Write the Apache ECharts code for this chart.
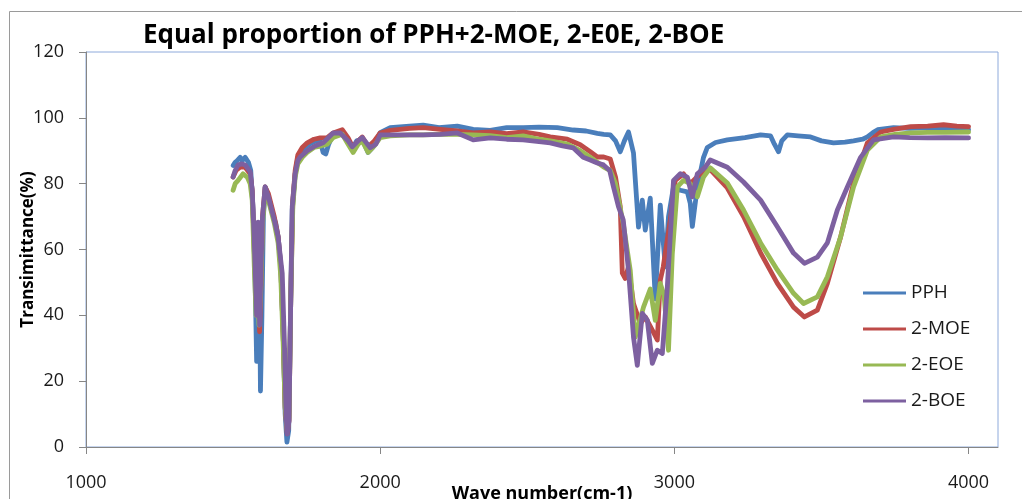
<!DOCTYPE html>
<html>
<head>
<meta charset="utf-8">
<script src="https://cdn.jsdelivr.net/npm/echarts@6/dist/echarts.min.js"></script>
<style>
html,body{margin:0;padding:0;background:#fff;}
#chart{width:1022px;height:499px;}
</style>
</head>
<body>
<div id="chart"></div>
<script>
const titleText = 'Equal proportion of PPH+2-MOE, 2-E0E, 2-BOE';
const seriesNames = ['PPH', '2-MOE', '2-EOE', '2-BOE'];
const xTicks = [1000, 2000, 3000, 4000];

const pph = [[1500,85.5],[1507,86.5],[1514,87],[1524,88],[1531,87],[1541,88],[1552,86.5],[1560,84],[1568,72],[1575,50],[1580,26],[1584,45],[1589,60],[1593,17],[1598,40],[1603,70],[1609,79],[1617,77],[1630,72],[1645,68],[1653,64],[1662,55],[1670,35],[1677,10],[1683,1.5],[1689,5],[1695,40],[1701,72],[1711,83],[1720,88],[1730,89],[1745,91],[1760,92],[1780,93],[1796,93],[1806,89.5],[1815,89],[1825,92],[1840,95],[1871,96],[1885,94],[1905,90.5],[1920,93],[1939,93.5],[1959,89.5],[1975,91],[2000,95.5],[2034,97],[2100,97.5],[2146,97.8],[2200,97],[2262,97.5],[2316,96.5],[2374,96.2],[2430,97],[2486,97],[2540,97.2],[2602,97],[2656,96.3],[2700,96],[2738,95.3],[2760,95],[2782,94.8],[2800,93],[2816,89.7],[2830,93],[2844,95.7],[2861,89.3],[2878,66.8],[2891,75],[2901,65.9],[2918,75.6],[2935,45],[2952,73.5],[2969,54.7],[2980,70],[2997,79],[3020,78],[3044,77.5],[3054,74],[3061,67],[3068,72],[3078,79],[3099,88],[3112,91],[3140,92.5],[3180,93.3],[3240,94],[3293,94.8],[3327,94.5],[3340,92],[3354,89.7],[3365,93],[3384,94.8],[3420,94.5],[3463,94.2],[3500,93],[3541,92.4],[3580,92.6],[3609,93],[3640,93.5],[3656,94.2],[3675,95.5],[3691,96.4],[3745,97],[3800,96.8],[3861,97],[3920,96.6],[4000,96.4]];

const moe = [[1500,82],[1510,84],[1524,85],[1541,85],[1558,83],[1565,78],[1572,60],[1578,45],[1585,60],[1590,35],[1595,50],[1600,70],[1609,79],[1620,77],[1640,70],[1653,64],[1662,55],[1670,35],[1677,12],[1684,4],[1690,8],[1696,45],[1703,75],[1711,84],[1720,88.7],[1735,91],[1752,92.4],[1775,93.5],[1796,93.9],[1820,94],[1840,95.4],[1871,96.4],[1891,93.9],[1908,90.9],[1925,93],[1939,94.2],[1959,91.2],[1980,93],[2000,95.4],[2034,96.2],[2100,96.8],[2146,97],[2204,96.5],[2262,96],[2316,95.4],[2374,95.7],[2430,95.2],[2486,95.7],[2540,95],[2578,94.2],[2636,93.5],[2680,91.8],[2714,89.7],[2738,88.1],[2760,88.1],[2782,87.5],[2800,82],[2816,73],[2823,52.8],[2833,51.2],[2844,54.7],[2861,43.6],[2884,37.5],[2901,39.5],[2925,35.5],[2942,32.5],[2952,50.7],[2962,54.7],[2986,69],[3003,81],[3031,83],[3054,80],[3088,83],[3122,84.3],[3180,78.7],[3235,70],[3293,59],[3350,49.7],[3405,42.5],[3442,39.5],[3486,41.6],[3520,49.7],[3565,63.8],[3609,80.2],[3656,92.4],[3701,95.7],[3745,96.5],[3803,97.3],[3861,97.5],[3915,97.9],[3960,97.5],[4000,97.3]];

const eoe = [[1500,78],[1507,80],[1517,81],[1534,83],[1548,82],[1558,80],[1565,75],[1572,55],[1578,40],[1583,50],[1588,37],[1594,48],[1600,68],[1609,77],[1620,75],[1640,68],[1653,62],[1662,52],[1670,32],[1677,12],[1684,5],[1690,9],[1696,45],[1703,73],[1711,82],[1720,86],[1735,88],[1752,89.5],[1775,91],[1800,91.5],[1820,92],[1840,94],[1871,95],[1891,92],[1908,89.5],[1925,92],[1939,93],[1959,89.5],[1980,91.5],[2000,94],[2034,94.5],[2100,94.8],[2146,94.8],[2204,95],[2262,95],[2316,94.8],[2374,94.6],[2430,94],[2486,94.5],[2540,93.5],[2578,93],[2636,92],[2680,90],[2714,88],[2738,86.5],[2760,85],[2782,84],[2800,80],[2826,68],[2850,53.7],[2867,33.4],[2895,42.5],[2918,48],[2935,38.5],[2952,49.7],[2965,46],[2980,29.4],[2993,58.8],[3010,79],[3031,81],[3054,80],[3078,76],[3099,82],[3122,84.8],[3180,80.2],[3235,72],[3293,62],[3350,53.8],[3405,46.7],[3439,43.6],[3486,45.6],[3520,51.7],[3565,63.8],[3609,79],[3656,90.2],[3701,94.2],[3750,95],[3803,95.4],[3861,95.6],[3920,95.6],[4000,95.7]];

const boe = [[1500,82],[1507,84],[1517,85.7],[1531,86],[1541,85.7],[1558,83.6],[1565,78],[1572,62.8],[1580,40],[1585,68.3],[1590,37],[1595,55],[1600,70],[1609,79],[1620,76],[1640,69],[1653,63.8],[1667,52.8],[1675,30],[1680,10],[1684,4],[1690,8],[1696,45],[1701,73],[1711,83],[1720,87],[1728,88.1],[1752,90],[1780,91.5],[1806,92.4],[1840,95.4],[1864,95.4],[1891,93],[1905,91.2],[1925,93],[1939,94],[1966,90.9],[1985,92],[2000,94.8],[2034,94.8],[2100,94.8],[2146,94.8],[2204,95],[2262,95.4],[2316,93.3],[2374,93.9],[2430,93.5],[2486,93.3],[2540,92.8],[2578,92.4],[2620,91.5],[2656,90.9],[2690,88],[2714,87.2],[2738,86.3],[2759,85.7],[2780,84],[2793,79],[2810,73],[2826,69],[2844,53.7],[2861,33.4],[2874,24.8],[2891,40.6],[2908,38.5],[2925,25.4],[2942,29.4],[2959,28.4],[2976,48.6],[2997,81],[3020,83],[3044,82],[3061,76],[3078,83],[3105,85],[3122,87.2],[3180,85],[3235,80.5],[3293,75],[3350,66.9],[3405,58.9],[3442,55.8],[3486,57.7],[3520,62],[3554,72],[3588,79],[3633,88],[3677,93.3],[3745,94.2],[3800,94],[3861,93.9],[3920,94],[4000,93.9]];

const colors = ['#4A7EBB', '#BE4B48', '#98B954', '#7D60A0'];
const allData = [pph, moe, eoe, boe];
const FONT = '"Open Sans", "Noto Sans", sans-serif';

const chart = echarts.init(document.getElementById('chart'), null, {renderer: 'canvas'});
chart.setOption({
  animation: false,
  backgroundColor: '#fff',
  color: colors,
  title: {
    text: titleText,
    left: 143,
    top: 23,
    padding: 0,
    textStyle: {fontFamily: FONT, fontWeight: 'bold', fontSize: 26, color: '#000'}
  },
  graphic: [{
    type: 'rect',
    silent: true,
    z: -1,
    shape: {x: 9.5, y: 11.5, width: 1100, height: 600},
    style: {fill: 'none', stroke: '#9a9a9a', lineWidth: 1}
  }],
  grid: {
    left: 86, top: 52, right: 24, bottom: 52,
    containLabel: false,
    outerBoundsMode: 'none',
    show: true, borderColor: '#8EAADB', borderWidth: 1, backgroundColor: 'transparent'
  },
  legend: {
    orient: 'vertical',
    left: 863,
    top: 283,
    padding: 0,
    itemWidth: 43,
    itemHeight: 14,
    itemGap: 16,
    icon: 'path://M0,6 L43,6 L43,9 L0,9 Z',
    textStyle: {fontFamily: FONT, fontSize: 19, color: '#1a1a1a', lineHeight: 20},
    data: seriesNames
  },
  xAxis: {
    type: 'value',
    min: 1000,
    max: 4100,
    interval: 1000,
    name: 'Wave number(cm-1)',
    nameLocation: 'middle',
    nameGap: 38,
    nameMoveOverlap: false,
    nameTextStyle: {fontFamily: FONT, fontWeight: 'bold', fontSize: 18, color: '#000'},
    axisLine: {lineStyle: {color: '#868686', width: 1}},
    axisTick: {show: true, inside: false, length: 7, lineStyle: {color: '#868686'}, customValues: xTicks},
    axisLabel: {fontFamily: FONT, fontSize: 18, color: '#1a1a1a', margin: 27, customValues: xTicks, formatter: v => String(v)},
    splitLine: {show: false}
  },
  yAxis: {
    type: 'value',
    min: 0,
    max: 120,
    interval: 20,
    name: 'Transimittance(%)',
    nameLocation: 'middle',
    nameGap: 49,
    nameRotate: 90,
    nameMoveOverlap: false,
    nameTextStyle: {fontFamily: FONT, fontWeight: 'bold', fontSize: 17, color: '#000'},
    axisLine: {show: true, lineStyle: {color: '#868686', width: 1}},
    axisTick: {show: true, inside: false, length: 7, lineStyle: {color: '#868686'}},
    axisLabel: {fontFamily: FONT, fontSize: 18, color: '#1a1a1a', margin: 22, formatter: v => String(v)},
    splitLine: {show: false}
  },
  series: seriesNames.map((n, i) => ({
    name: n,
    type: 'line',
    data: allData[i],
    symbol: 'none',
    showSymbol: false,
    lineStyle: {width: 4.8, color: colors[i], join: 'round', cap: 'round'},
    itemStyle: {color: colors[i]},
    z: 2 + i
  }))
});
</script>
</body>
</html>
